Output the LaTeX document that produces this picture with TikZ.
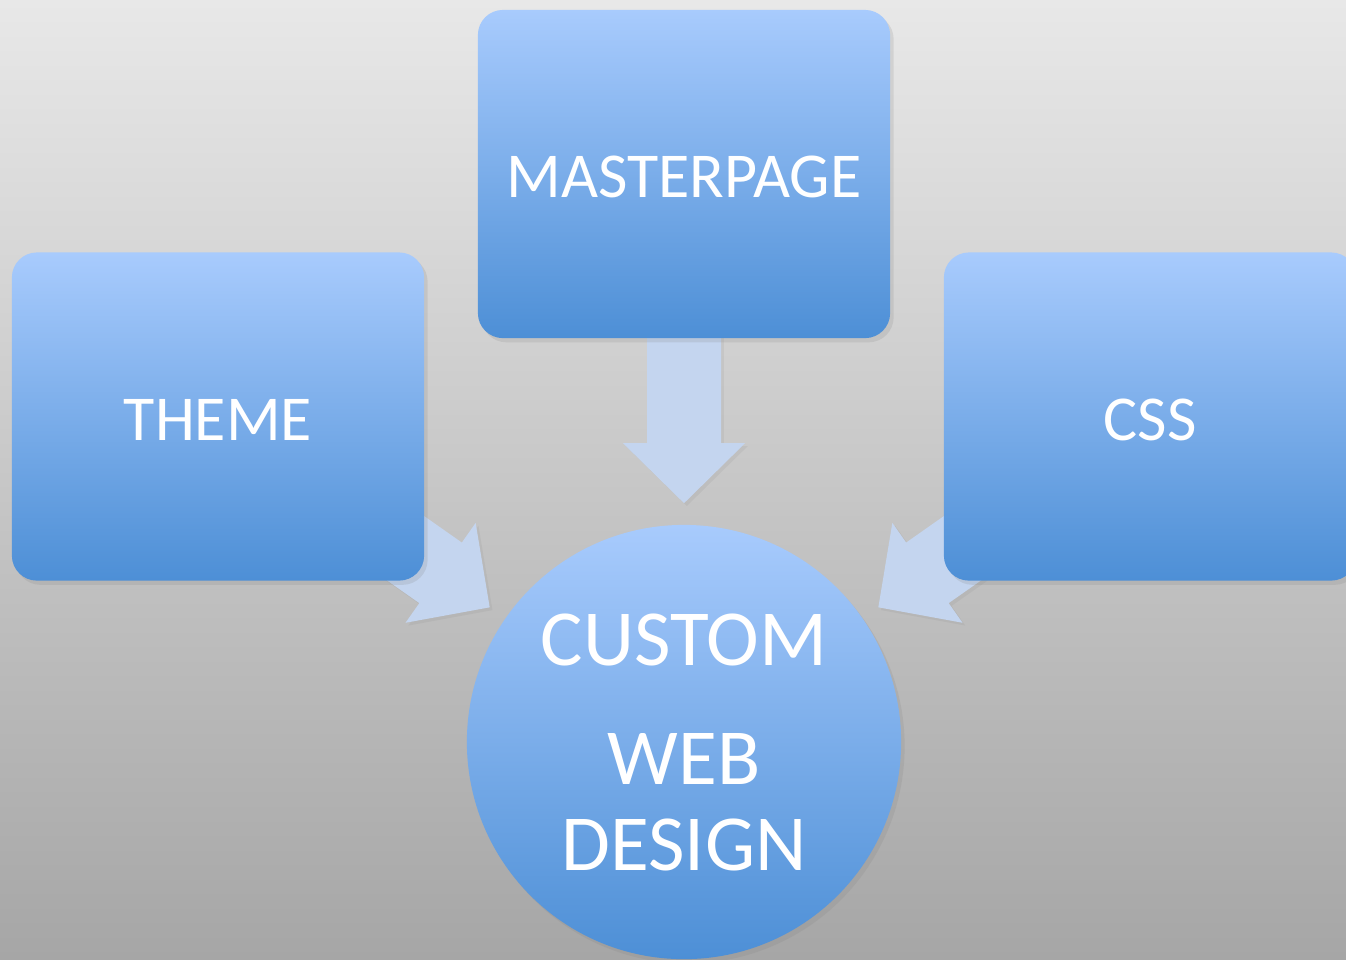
\documentclass[tikz,border=0pt]{standalone}
\usepackage{fontspec}
\setmainfont{Carlito}
\usetikzlibrary{shadows,calc}
\definecolor{bgtop}{HTML}{E8E8E8}
\definecolor{bgbot}{HTML}{A6A6A6}
\definecolor{boxtop}{HTML}{A8CBFD}
\definecolor{boxbot}{HTML}{4D8FD6}
\definecolor{arrowfill}{HTML}{C4D5EF}
\pgfdeclarelayer{bglayer}
\pgfdeclarelayer{arrowlayer}
\pgfsetlayers{bglayer,arrowlayer,main}
\begin{document}
\begin{tikzpicture}[x=0.01cm,y=-0.01cm,
  boxnode/.style={rectangle, rounded corners=0.25cm, minimum width=4.12cm,
    minimum height=3.28cm, top color=boxtop, bottom color=boxbot, text=white,
    font=\fontsize{18.2}{22}\selectfont, inner sep=0pt, text height=13.6pt,
    drop shadow={shadow xshift=1pt, shadow yshift=-1.2pt, opacity=0.18}},
  hubnode/.style={circle, minimum size=4.34cm, inner sep=0pt,
    top color=boxtop, bottom color=boxbot, text=white, align=center,
    font=\fontsize{22.6}{24.2}\selectfont,
    drop shadow={shadow xshift=1pt, shadow yshift=-1.2pt, opacity=0.18}},
  blockarrow/.style={fill=arrowfill, draw=none,
    drop shadow={shadow xshift=0.8pt, shadow yshift=-0.8pt, opacity=0.12}}
]
\useasboundingbox (0,0) rectangle (1346,959);
\clip (0,0) rectangle (1346,959);
\begin{pgfonlayer}{bglayer}
  \shade[top color=bgtop, bottom color=bgbot] (0,0) rectangle (1346,959);
\end{pgfonlayer}

\node[boxnode] (master) at (684,174) {MASTERPAGE};
\node[boxnode] (theme) at (218,416.5) {THEME};
\node[boxnode] (css) at (1150,416.5) {CSS};
\node[hubnode] (hub) at (684,742) {CUSTOM\\[9.9pt]WEB\\DESIGN};

\begin{pgfonlayer}{arrowlayer}
  \coordinate (mtip) at ($(hub.north)+(0,-21)$);
  \fill[blockarrow] ($(master.south)+(-37,-10)$) -- ($(mtip)+(-37,-60)$)
    -- ($(mtip)+(-61,-60)$) -- (mtip) -- ($(mtip)+(61,-60)$)
    -- ($(mtip)+(37,-60)$) -- ($(master.south)+(37,-10)$) -- cycle;
  \begin{scope}[shift={(theme.center)}, rotate=-35.08]
    \fill[blockarrow] (0,-37) -- (272,-37) -- (272,-61) -- (332,0)
      -- (272,61) -- (272,37) -- (0,37) -- cycle;
  \end{scope}
  \begin{scope}[shift={(css.center)}, rotate=-144.92]
    \fill[blockarrow] (0,-37) -- (272,-37) -- (272,-61) -- (332,0)
      -- (272,61) -- (272,37) -- (0,37) -- cycle;
  \end{scope}
\end{pgfonlayer}
\end{tikzpicture}
\end{document}
